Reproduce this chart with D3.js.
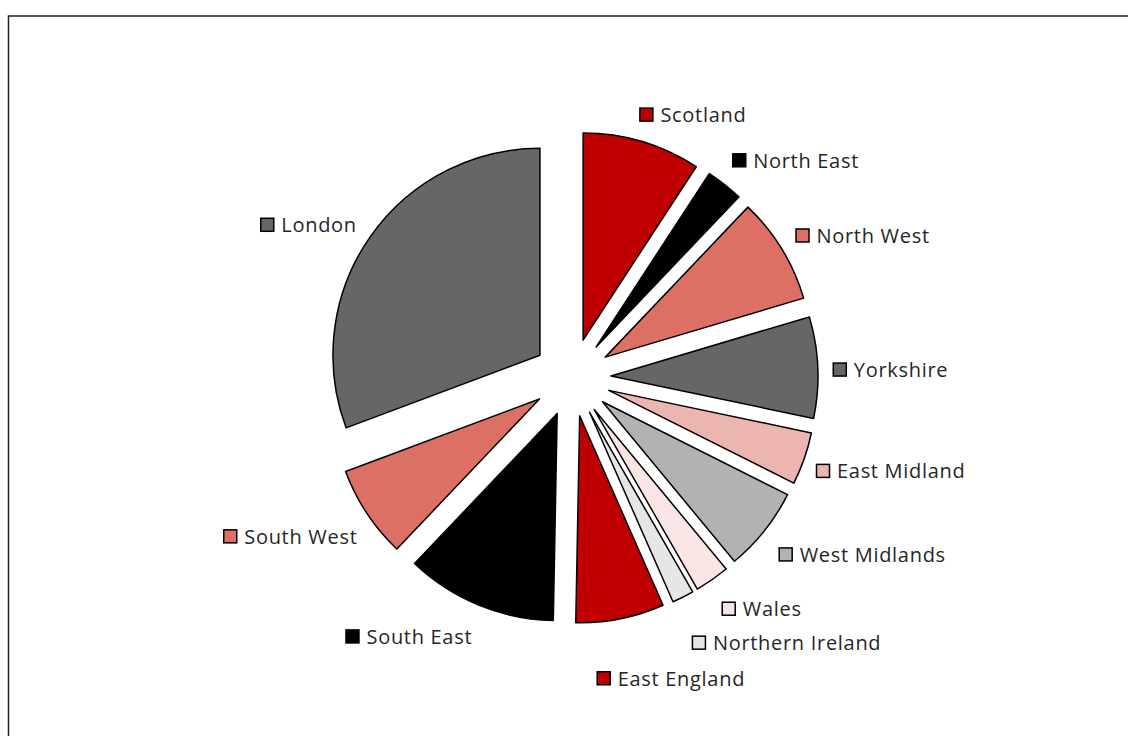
<!DOCTYPE html>
<meta charset="utf-8">
<style>
  body { margin: 0; padding: 0; background: #fff; }
  svg { display: block; }
  text { font-family: "Open Sans", sans-serif; font-size: 20px; letter-spacing: 0.7px; fill: #262626; }
</style>
<script src="https://d3js.org/d3.v7.min.js"></script>
<body>
<div id="chart"></div>
<script>
// regions in clockwise order from 12 o'clock
var regions = ["Scotland", "North East", "North West", "Yorkshire", "East Midland", "West Midlands",
               "Wales", "Northern Ireland", "East England", "South East", "South West", "London"];
var shares = [9.2, 2.9, 8.3, 7.9, 4.1, 6.6, 2.7, 1.7, 6.9, 11.8, 7.2, 30.7];
var fills = ["#c00000", "#000000", "#dd7065", "#666666", "#edb5b1", "#b2b2b2",
             "#f9e5e4", "#e6e6e6", "#c00000", "#000000", "#dd7065", "#666666"];

var W = 1128, H = 736;
var cx = 572, cy = 377.5, radius = 207, explode = 39, labelR = 268;

var svg = d3.select("#chart").append("svg")
    .attr("width", W)
    .attr("height", H);

// chart frame
svg.append("rect")
    .attr("x", 8.5).attr("y", 16)
    .attr("width", W + 50).attr("height", H + 50)
    .attr("fill", "none")
    .attr("stroke", "#222")
    .attr("stroke-width", 1.5);

var data = regions.map(function(r, i) { return {name: r, value: shares[i], fill: fills[i]}; });

var pie = d3.pie().sort(null).value(function(d) { return d.value; });
var arcs = pie(data);

var arc = d3.arc().innerRadius(0).outerRadius(radius);

var g = svg.append("g").attr("transform", "translate(" + cx + "," + cy + ")");

function mid(d) { return (d.startAngle + d.endAngle) / 2; }

g.selectAll("path.slice")
  .data(arcs)
  .enter().append("path")
    .attr("class", "slice")
    .attr("d", arc)
    .attr("transform", function(d) {
      var a = mid(d);
      return "translate(" + (explode * Math.sin(a)) + "," + (-explode * Math.cos(a)) + ")";
    })
    .attr("fill", function(d) { return d.data.fill; })
    .attr("stroke", "#000")
    .attr("stroke-width", 1.5)
    .attr("stroke-linejoin", "round");

// small tweaks so labels sit like the original layout
var nudge = {
  "Scotland": [-9, -6], "North East": [-6, -7], "North West": [-5, -2], "Yorkshire": [-7, 3],
  "East Midland": [-9, 5], "West Midlands": [-3, 10], "Wales": [-3, 11], "Northern Ireland": [-1, 26],
  "East England": [-28, 38], "South East": [2, 11], "South West": [9, 11], "London": [5, 0]
};

var box = 13, gap = 8;

var labels = g.selectAll("g.label")
  .data(arcs)
  .enter().append("g")
    .attr("class", "label");

labels.each(function(d) {
  var a = mid(d);
  var n = nudge[d.data.name] || [0, 0];
  var x = labelR * Math.sin(a) + n[0];
  var y = -labelR * Math.cos(a) + n[1];
  var sel = d3.select(this);
  var t = sel.append("text")
      .attr("y", y)
      .attr("dy", "0.37em")
      .text(d.data.name);
  var left = a > Math.PI;
  var tw = t.node().getComputedTextLength();
  var mx;
  if (left) {
    // right edge of label sits at the anchor
    t.attr("x", x - tw);
    mx = x - tw - gap - box;
  } else {
    mx = x;
    t.attr("x", x + box + gap);
  }
  sel.insert("rect", "text")
      .attr("x", mx + 0.5)
      .attr("y", y - box / 2)
      .attr("width", box)
      .attr("height", box)
      .attr("fill", d.data.fill)
      .attr("stroke", "#000")
      .attr("stroke-width", 1.5);
});
</script>
</body>
